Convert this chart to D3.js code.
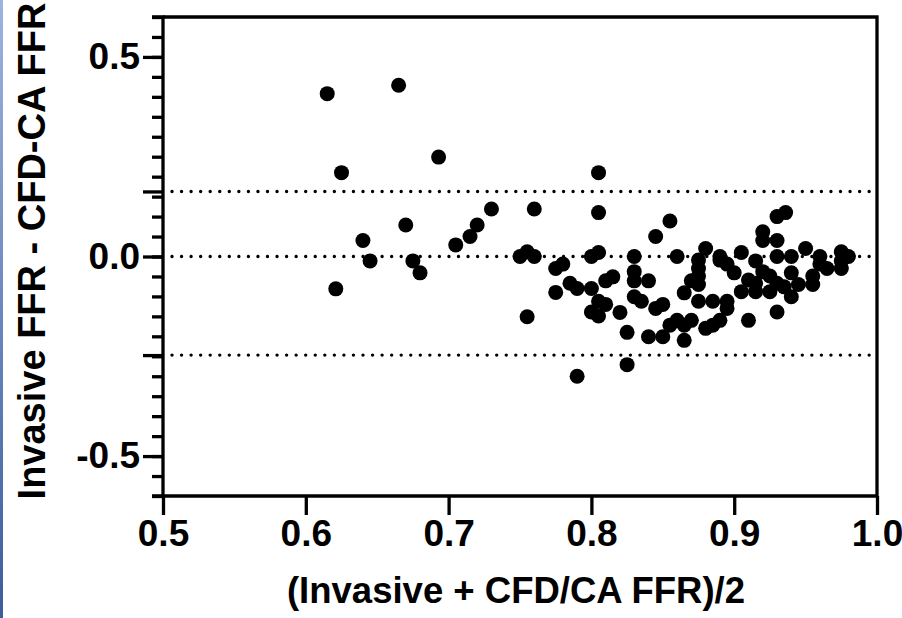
<!DOCTYPE html>
<html>
<head>
<meta charset="utf-8">
<script src="https://cdn.jsdelivr.net/npm/d3@7"></script>
<style>
  body { margin: 0; background: #fff; }
  svg { display: block; }
  text { font-family: "Liberation Sans", Arial, sans-serif; font-weight: bold; fill: #000; }
</style>
</head>
<body>
<div id="vis"></div>
<script>
const w = 902;
const h = 618;

// Bland-Altman data
const meanFFR = [
  0.615, 0.665, 0.625, 0.693, 0.670, 0.640, 0.645, 0.675, 0.680, 0.621,
  0.805, 0.730, 0.760, 0.805, 0.720, 0.715, 0.705, 0.855, 0.845, 0.930,
  0.936, 0.920, 0.920, 0.930, 0.880, 0.905, 0.950, 0.750, 0.755, 0.760,
  0.800, 0.805, 0.830, 0.860, 0.930, 0.940, 0.975, 0.980, 0.890, 0.960,
  0.780, 0.775, 0.775, 0.785, 0.790, 0.755, 0.790, 0.800, 0.805, 0.810,
  0.800, 0.805, 0.810, 0.815, 0.820, 0.825, 0.825, 0.830, 0.830, 0.830,
  0.835, 0.840, 0.840, 0.845, 0.850, 0.850, 0.855, 0.860, 0.865, 0.865,
  0.865, 0.870, 0.870, 0.875, 0.875, 0.875, 0.875, 0.875, 0.880, 0.885,
  0.890, 0.885, 0.890, 0.895, 0.900, 0.895, 0.895, 0.905, 0.910, 0.915,
  0.920, 0.925, 0.915, 0.910, 0.915, 0.925, 0.930, 0.935, 0.930, 0.940,
  0.940, 0.945, 0.955, 0.955, 0.960, 0.965, 0.975, 0.975
];
const diffFFR = [
  0.408, 0.429, 0.210, 0.249, 0.079, 0.040, -0.011, -0.011, -0.041, -0.081,
  0.210, 0.119, 0.119, 0.110, 0.079, 0.050, 0.029, 0.089, 0.050, 0.100,
  0.110, 0.062, 0.040, 0.040, 0.020, 0.010, 0.020, 0.000, 0.012, 0.000,
  0.000, 0.010, 0.000, 0.000, 0.000, 0.000, 0.012, 0.000, 0.000, 0.000,
  -0.019, -0.030, -0.090, -0.067, -0.080, -0.151, -0.300, -0.080, -0.112, -0.120,
  -0.139, -0.149, -0.061, -0.051, -0.140, -0.190, -0.271, -0.038, -0.061, -0.101,
  -0.112, -0.061, -0.201, -0.130, -0.120, -0.201, -0.172, -0.160, -0.091, -0.172,
  -0.210, -0.160, -0.061, -0.009, -0.030, -0.049, -0.070, -0.112, -0.180, -0.172,
  -0.160, -0.112, -0.009, -0.019, -0.041, -0.112, -0.130, -0.088, -0.059, -0.067,
  -0.038, -0.049, -0.011, -0.160, -0.088, -0.088, -0.067, -0.076, -0.139, -0.041,
  -0.101, -0.070, -0.049, -0.070, -0.019, -0.030, -0.030, -0.011
];

// bias and limits of agreement (dotted lines)
const refLines = [0.163, 0.0, -0.247];

const xTicks = [0.5, 0.6, 0.7, 0.8, 0.9, 1.0];
const yTicks = [-0.5, 0.0, 0.5];
const yMinorTicks = d3.range(-12, 13).map(i => i * 0.05);

const margin = { top: 17, right: 24, bottom: 122, left: 163 };

// hyphen instead of unicode minus, like the original
const fmt = d => d3.format('.1f')(d).replace('\u2212', '-');

const svg = d3.select('#vis')
  .append('svg')
  .attr('width', w)
  .attr('height', h);

// thin blue strip down the left edge
const grad = svg.append('defs').append('linearGradient')
  .attr('id', 'strip')
  .attr('x1', 0).attr('y1', 0).attr('x2', 0).attr('y2', 1);
grad.append('stop').attr('offset', '0%').attr('stop-color', '#9db3e0');
grad.append('stop').attr('offset', '100%').attr('stop-color', '#3d5c9c');
svg.append('rect')
  .attr('x', 0).attr('y', 0)
  .attr('width', 3).attr('height', h)
  .attr('fill', 'url(#strip)');

const xScale = d3.scaleLinear()
  .domain([0.5, 1.0])
  .range([margin.left, w - margin.right - 1]);

const yScale = d3.scaleLinear()
  .domain([-0.6, 0.6])
  .range([h - margin.bottom, margin.top]);

const x0 = xScale.range()[0], x1 = xScale.range()[1];
const y0 = yScale.range()[0], y1 = yScale.range()[1];

// dotted reference lines
svg.selectAll('.ref')
  .data(refLines)
  .join('line')
  .attr('class', 'ref')
  .attr('x1', x0 + 9)
  .attr('x2', x1 - 4)
  .attr('y1', d => yScale(d))
  .attr('y2', d => yScale(d))
  .attr('stroke', '#000')
  .attr('stroke-width', 3.4)
  .attr('stroke-linecap', 'round')
  .attr('stroke-dasharray', '0 9.55');

// points
svg.selectAll('.pt')
  .data(meanFFR.map((m, i) => ({ m: m, d: diffFFR[i] })))
  .join('circle')
  .attr('class', 'pt')
  .attr('cx', d => xScale(d.m))
  .attr('cy', d => yScale(d.d))
  .attr('r', 7.5)
  .attr('fill', '#000');

// frame top + right
svg.append('path')
  .attr('d', `M${x0},${y1}H${x1}V${y0}`)
  .attr('fill', 'none')
  .attr('stroke', '#000')
  .attr('stroke-width', 3.3);

// y axis: minor ticks
const yMinor = svg.append('g')
  .attr('transform', `translate(${x0},0)`)
  .call(d3.axisLeft(yScale).tickValues(yMinorTicks).tickSize(11).tickFormat(''));

// y axis: major ticks + limit ticks
const yMajor = svg.append('g')
  .attr('transform', `translate(${x0},0)`)
  .call(d3.axisLeft(yScale).tickValues(yTicks.concat([refLines[0], refLines[2]]))
    .tickSize(20).tickPadding(3)
    .tickFormat(d => yTicks.includes(d) ? fmt(d) : ''));

// x axis
const xAxis = svg.append('g')
  .attr('transform', `translate(0,${y0})`)
  .call(d3.axisBottom(xScale).tickValues(xTicks).tickSize(19).tickPadding(5)
    .tickFormat(fmt));

[yMinor, yMajor, xAxis].forEach(g => {
  g.selectAll('path.domain').attr('stroke', '#000').attr('stroke-width', 3.3);
  g.selectAll('.tick line').attr('stroke', '#000').attr('stroke-width', 3.3);
  g.selectAll('.tick text')
    .attr('font-family', '"Liberation Sans", Arial, sans-serif')
    .attr('font-weight', 'bold')
    .attr('font-size', '37px')
    .attr('fill', '#000');
});
yMinor.select('path.domain').attr('d', `M-11,${y0}H0V${y1}H-11`);
yMajor.select('path.domain').remove();
xAxis.select('path.domain').attr('d', `M${x0},0H${x1}`);

// axis titles
svg.append('text')
  .attr('x', 516)
  .attr('y', 603)
  .attr('text-anchor', 'middle')
  .attr('font-size', '36.5px')
  .text('(Invasive + CFD/CA FFR)/2');

svg.append('text')
  .attr('transform', `translate(45,251) rotate(-90)`)
  .attr('text-anchor', 'middle')
  .attr('font-size', '38px')
  .text('Invasive FFR - CFD-CA FFR');
</script>
</body>
</html>
